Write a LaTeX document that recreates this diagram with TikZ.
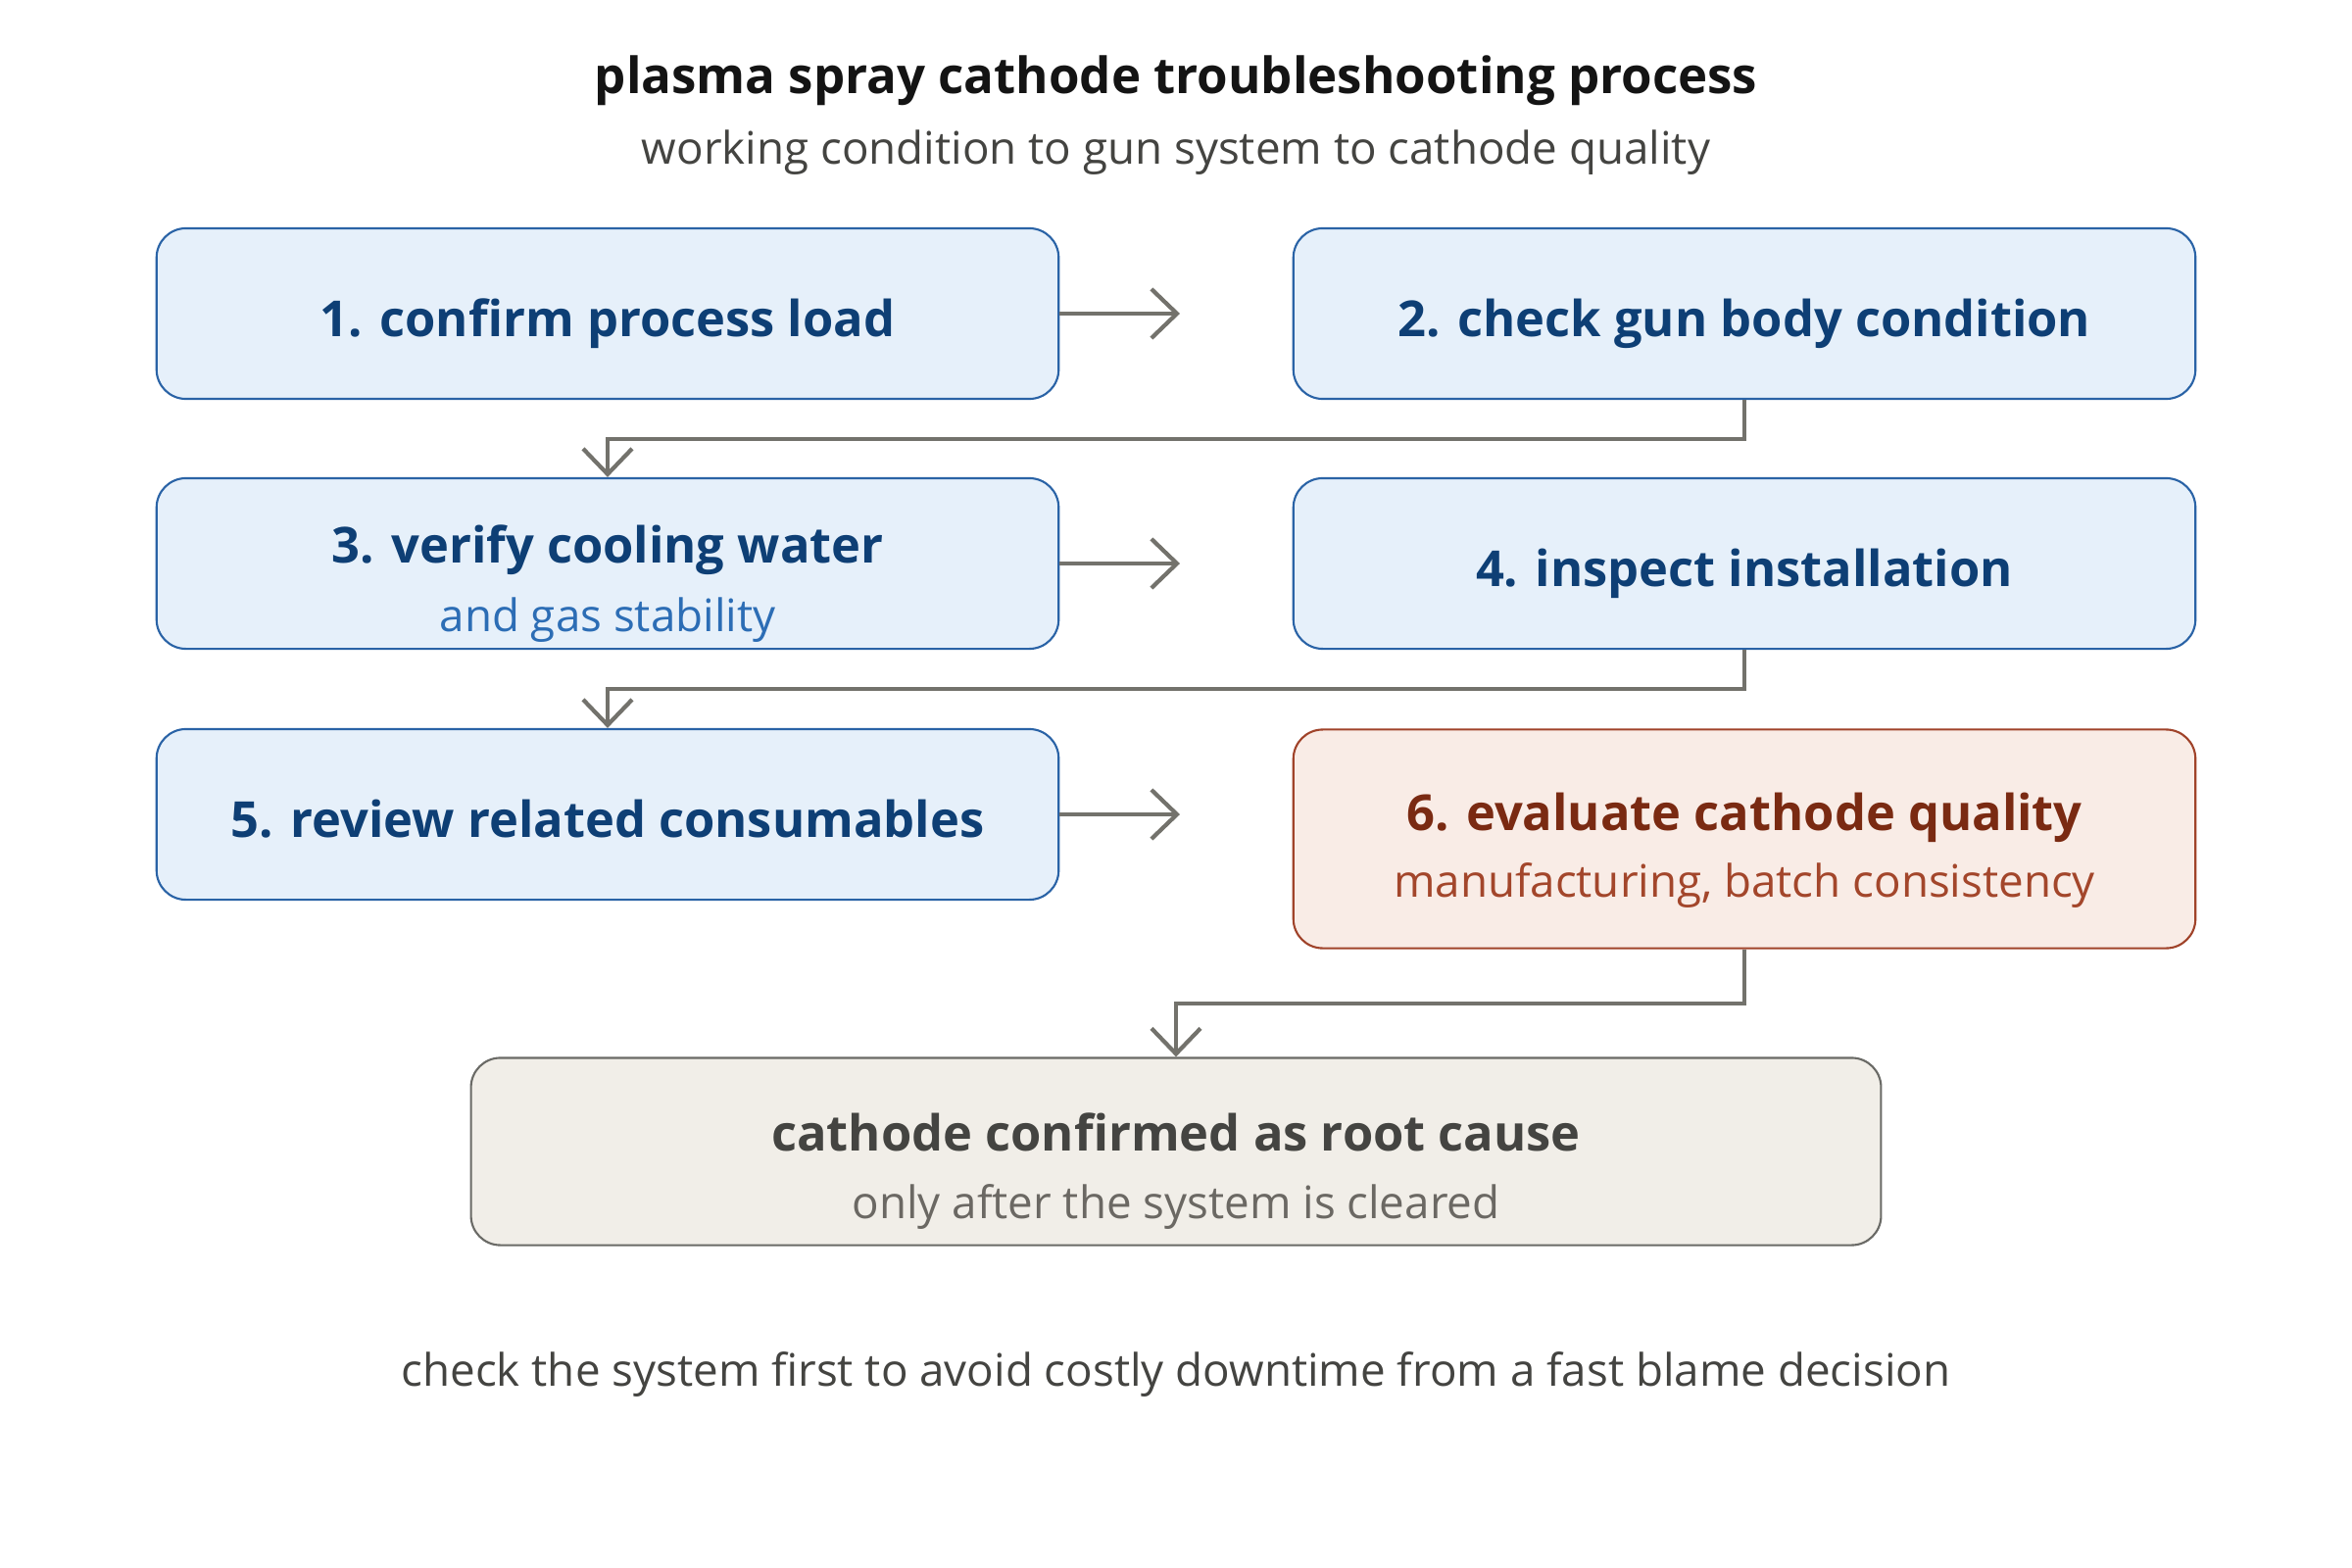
\documentclass[tikz,border=0pt]{standalone}
\usepackage{fontspec}
\setmainfont{Open Sans}
\usetikzlibrary{arrows.meta}
\definecolor{bfill}{HTML}{E6F0FA}
\definecolor{bdraw}{HTML}{2A63A6}
\definecolor{btext}{HTML}{0E3F75}
\definecolor{bsub}{HTML}{2C6DB5}
\definecolor{rfill}{HTML}{F9ECE6}
\definecolor{rdraw}{HTML}{A0432A}
\definecolor{rtext}{HTML}{7A2A12}
\definecolor{rsub}{HTML}{A3462B}
\definecolor{gfill}{HTML}{F1EEE8}
\definecolor{gdraw}{HTML}{6A6A66}
\definecolor{gtext}{HTML}{444441}
\definecolor{gsub}{HTML}{6B6863}
\definecolor{arr}{HTML}{73726C}
\tikzset{
  box/.style={rounded corners=0.3cm, line width=0.6pt, minimum width=9.2cm, inner sep=0pt},
  bluebox/.style={box, fill=bfill, draw=bdraw, minimum height=1.74cm},
  redbox/.style={box, fill=rfill, draw=rdraw, minimum height=2.23cm},
  greybox/.style={box, fill=gfill, draw=gdraw, minimum width=14.38cm, minimum height=1.91cm},
  lbl/.style={anchor=base, inner sep=0pt},
  mainlbl/.style={lbl, font=\fontsize{14.4}{17}\selectfont\bfseries},
  sublbl/.style={lbl, font=\fontsize{13}{16}\selectfont},
  conn/.style={draw=arr, line width=1.2pt, -{Straight Barb[length=2.6mm,width=5mm,line width=1.2pt]}},
}
\begin{document}
\begin{tikzpicture}[x=0.01cm,y=-0.01cm]
\path[use as bounding box, fill=white] (0,0) rectangle (2400,1600);
\node[lbl, font=\fontsize{14.5}{17}\selectfont\bfseries, text=black!92] (title) at (1200,96) {plasma spray cathode troubleshooting process};
\node[sublbl, text=gtext] (subtitle) at (1200,168) {working condition to gun system to cathode quality};

\node[bluebox] (b1) at (620,320) {};
\node[bluebox] (b2) at (1780,320) {};
\node[bluebox] (b3) at (620,575) {};
\node[bluebox] (b4) at (1780,575) {};
\node[bluebox] (b5) at (620,831) {};
\node[redbox] (b6) at (1780,856) {};
\node[greybox] (fin) at (1200,1175) {};

\node[mainlbl, text=btext] (t1) at (620,343) {1. confirm process load};
\node[mainlbl, text=btext] (t2) at (1780,343) {2. check gun body condition};
\node[mainlbl, text=btext] (t3) at (620,574) {3. verify cooling water};
\node[sublbl, text=bsub] (s3) at (620,644) {and gas stability};
\node[mainlbl, text=btext] (t4) at (1780,598) {4. inspect installation};
\node[mainlbl, text=btext] (t5) at (620,854) {5. review related consumables};
\node[mainlbl, text=rtext] (t6) at (1780,847) {6. evaluate cathode quality};
\node[sublbl, text=rsub] (s6) at (1780,915) {manufacturing, batch consistency};
\node[mainlbl, text=gtext] (tf) at (1200,1174) {cathode confirmed as root cause};
\node[sublbl, text=gsub] (sf) at (1200,1243) {only after the system is cleared};
\node[sublbl, text=gtext] (foot) at (1200,1414) {check the system first to avoid costly downtime from a fast blame decision};

\coordinate (e1) at (1204,320);
\coordinate (e3) at (1204,575);
\coordinate (e5) at (1204,831);
\draw[conn] (b1.east) -- (e1);
\draw[conn] (b3.east) -- (e3);
\draw[conn] (b5.east) -- (e5);
\draw[conn] (b2.south) -- ++(0,40) -| (b3.north);
\draw[conn] (b4.south) -- ++(0,40) -| (b5.north);
\draw[conn] (b6.south) -- ++(0,55) -| (fin.north);
\end{tikzpicture}
\end{document}
